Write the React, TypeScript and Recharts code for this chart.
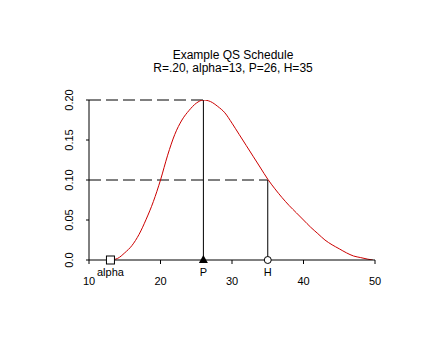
import React from 'react';
import { LineChart, Line, XAxis, YAxis, ReferenceLine, ReferenceDot } from 'recharts';

// QS schedule curve
const xs = [13, 14, 15, 16, 17, 18, 19, 20, 21, 22, 23, 24, 25, 26, 27, 28, 29, 30, 31, 32, 33, 34, 35, 36, 37, 38, 39, 40, 41, 42, 43, 44, 45, 46, 47, 48, 49, 49.7];
const ys = [0, 0.002, 0.009, 0.018, 0.032, 0.051, 0.073, 0.1, 0.131, 0.157, 0.175, 0.187, 0.196, 0.2, 0.198, 0.192, 0.184, 0.171, 0.157, 0.143, 0.129, 0.115, 0.101, 0.089, 0.078, 0.068, 0.059, 0.05, 0.041, 0.033, 0.025, 0.019, 0.014, 0.009, 0.005, 0.003, 0.001, 0];

const xTicks = [10, 20, 30, 40, 50];
const yTicks = [0, 0.05, 0.1, 0.15, 0.2];
const yTickLabels = ['0.0', '0.05', '0.10', '0.15', '0.20'];

const alpha = 13;
const P = 26;
const H = 35;
const R = 0.2;
const hValue = 0.1;

const data = xs.map((x, i) => ({ x, y: ys[i] }));

const font = '"Liberation Sans", Arial, sans-serif';

const YTick = (props: any) => {
  const { x, y, payload } = props;
  const idx = yTicks.indexOf(payload.value);
  const tx = x - 11;
  return (
    <text x={tx} y={y} transform={`rotate(-90, ${tx}, ${y})`} textAnchor="middle" fontSize={11} fontFamily={font} fill="#000">
      {idx >= 0 ? yTickLabels[idx] : payload.value}
    </text>
  );
};

const marker = (kind: string, label: string) => (p: any) => {
  const { cx, cy } = p;
  let shape;
  if (kind === 'square') {
    shape = <rect x={cx - 4} y={cy - 4} width={8} height={8} fill="#fff" stroke="#000" strokeWidth={1} />;
  } else if (kind === 'triangle') {
    shape = <path d={`M${cx - 4.5},${cy + 3} L${cx + 4.5},${cy + 3} L${cx},${cy - 5} Z`} fill="#000" />;
  } else {
    shape = <circle cx={cx} cy={cy} r={3.5} fill="#fff" stroke="#000" strokeWidth={1} />;
  }
  return (
    <g>
      {shape}
      <text x={cx} y={cy + 16} textAnchor="middle" fontSize={11} fontFamily={font} fill="#000">{label}</text>
    </g>
  );
};

export default function App() {
  return (
    <div style={{ position: 'absolute', left: 0, top: 0, width: 432, height: 360, background: '#fff', fontFamily: font }}>
      <div style={{ position: 'absolute', left: 17, top: 49, width: 432, textAlign: 'center', fontSize: 12, lineHeight: '13px', color: '#000' }}>
        <div>Example QS Schedule</div>
        <div>R=.20, alpha=13, P=26, H=35</div>
      </div>
      <LineChart width={432} height={360} data={data} margin={{ top: 100, right: 57, bottom: 70, left: 59 }}>
        <XAxis
          dataKey="x"
          type="number"
          domain={[10, 50]}
          ticks={xTicks}
          tickSize={4}
          tickMargin={13}
          stroke="#000"
          tick={{ fill: '#000', fontSize: 11, fontFamily: font }}
          height={30}
        />
        <YAxis
          type="number"
          domain={[0, 0.2]}
          ticks={yTicks}
          tickSize={3}
          stroke="#000"
          tick={<YTick />}
          width={30}
          allowDataOverflow
        />
        <ReferenceLine segment={[{ x: 10, y: R }, { x: P, y: R }]} stroke="#000" strokeDasharray="12 5" />
        <ReferenceLine segment={[{ x: 10, y: hValue }, { x: H, y: hValue }]} stroke="#000" strokeDasharray="12 5" />
        <ReferenceLine segment={[{ x: P, y: R }, { x: P, y: 0 }]} stroke="#000" />
        <ReferenceLine segment={[{ x: H, y: hValue }, { x: H, y: 0 }]} stroke="#000" />
        <Line dataKey="y" type="monotone" stroke="#cc0000" strokeWidth={1} dot={false} isAnimationActive={false} />
        <ReferenceDot x={alpha} y={0} shape={marker('square', 'alpha')} ifOverflow="visible" />
        <ReferenceDot x={P} y={0} shape={marker('triangle', 'P')} ifOverflow="visible" />
        <ReferenceDot x={H} y={0} shape={marker('circle', 'H')} ifOverflow="visible" />
      </LineChart>
    </div>
  );
}
